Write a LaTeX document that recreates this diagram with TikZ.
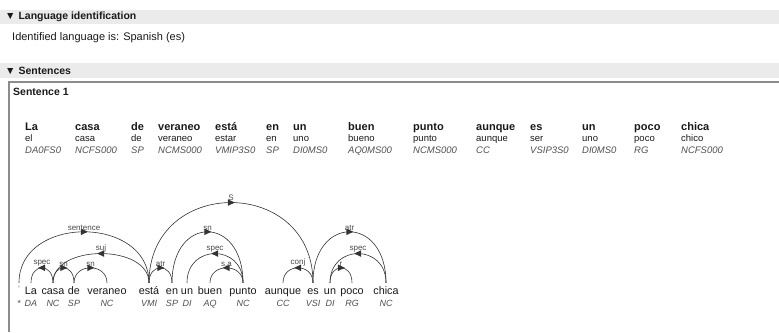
\documentclass[tikz,border=0pt]{standalone}
\usepackage{fontspec}
\setmainfont{Liberation Sans}
\usetikzlibrary{decorations.markings}
\definecolor{barcol}{HTML}{EBEBEB}
\definecolor{boxcol}{HTML}{8C8C8C}
\definecolor{txtcol}{HTML}{1A1A1A}
\definecolor{tagcol}{HTML}{505050}
\definecolor{arccol}{HTML}{333333}
\definecolor{lblcol}{HTML}{4A4A4A}
\newcommand{\deparc}[4]{%
  \draw[deparc] ([yshift=3pt]#1.north) .. controls +(0,-#3) and +(0,-#3) .. ([yshift=3pt]#2.north)
    node[midway, above=1.2pt, arclabel] {#4};}
\tikzset{
  hdr/.style={anchor=west, inner sep=0pt, font=\fontsize{10.5}{12}\selectfont\bfseries, text=txtcol},
  plain/.style={anchor=west, inner sep=0pt, font=\fontsize{11}{13}\selectfont, text=txtcol},
  tokw/.style={anchor=base west, inner sep=0pt, font=\fontsize{11}{13}\selectfont\bfseries, text=txtcol},
  toklem/.style={anchor=base west, inner sep=0pt, font=\fontsize{9.5}{11}\selectfont, text=txtcol},
  toktag/.style={anchor=base west, inner sep=0pt, font=\fontsize{9.5}{11}\selectfont\itshape, text=tagcol},
  treew/.style={anchor=base, inner sep=0pt, text height=8pt, text depth=2pt, font=\fontsize{10.8}{12}\selectfont, text=txtcol},
  treetag/.style={anchor=base, inner sep=0pt, font=\fontsize{9}{11}\selectfont\itshape, text=tagcol},
  arclabel/.style={inner sep=0pt, font=\fontsize{8}{9}\selectfont, text=lblcol},
  deparc/.style={draw=arccol, line width=0.6pt,
    postaction={decorate},
    decoration={markings, mark=at position 0.5 with {\fill[arccol] (3.8pt,0pt) -- (-3.2pt,3.3pt) -- (-3.2pt,-3.3pt) -- cycle;}}},
  boxline/.style={draw=boxcol, line width=1.5pt}
}
\begin{document}
\begin{tikzpicture}[x=1pt,y=-1pt]
\useasboundingbox (0,0) rectangle (779,332);
\fill[white] (0,0) rectangle (779,332);
% headers
\fill[barcol] (0,10) rectangle (779,24);
\node[hdr] (h1) at (5,17) {▼ Language identification};
\node[plain] (lang) at (12,38) {Identified language is: Spanish (es)};
\fill[barcol] (0,63) rectangle (779,78);
\node[hdr] (h2) at (5,71) {▼ Sentences};
\draw[boxline] (9,332) -- (9,82) -- (779,82);
\node[hdr] (s1) at (13,92) {Sentence 1};
% token table
\foreach \x/\w/\l/\t [count=\i] in {25/La/el/DA0FS0, 75/casa/casa/NCFS000, 131/de/de/SP,
  158/veraneo/veraneo/NCMS000, 215/está/estar/VMIP3S0, 266/en/en/SP, 293/un/uno/DI0MS0,
  348/buen/bueno/AQ0MS00, 413/punto/punto/NCMS000, 476/aunque/aunque/CC, 530/es/ser/VSIP3S0,
  582/un/uno/DI0MS0, 634/poco/poco/RG, 681/chica/chico/NCFS000} {
  \node[tokw] (tw\i) at (\x,130) {\w};
  \node[toklem] (tl\i) at (\x,141.5) {\l};
  \node[toktag] (tt\i) at (\x,153.5) {\t};
}
% dependency tree
\node[treew] (w0) at (19,294) {\raisebox{4pt}{\textcolor{gray!60}{\fontsize{7}{8}\selectfont *}}};
\node[treetag] (g0) at (19,306.5) {*};
\foreach \x/\w/\t [count=\i] in {31/La/DA, 53/casa/NC, 74/de/SP, 107/veraneo/NC, 149/está/VMI,
  172/en/SP, 187/un/DI, 210/buen/AQ, 243/punto/NC, 283/aunque/CC, 313/es/VSI, 330/un/DI,
  352/poco/RG, 386/chica/NC} {
  \node[treew] (w\i) at (\x,294) {\w};
  \node[treetag] (g\i) at (\x,306.5) {\t};
}
\deparc{w0}{w5}{68}{sentence}
\deparc{w5}{w2}{39}{suj}
\deparc{w2}{w1}{20}{spec}
\deparc{w2}{w3}{20}{sn}
\deparc{w3}{w4}{20}{sn}
\deparc{w5}{w6}{20}{atr}
\deparc{w5}{w11}{107}{S}
\deparc{w6}{w9}{68}{sn}
\deparc{w9}{w7}{39}{spec}
\deparc{w9}{w8}{20}{s.a}
\deparc{w11}{w10}{20}{conj}
\deparc{w11}{w14}{68}{atr}
\deparc{w14}{w12}{39}{spec}
\deparc{w12}{w13}{20}{r}
\end{tikzpicture}
\end{document}
